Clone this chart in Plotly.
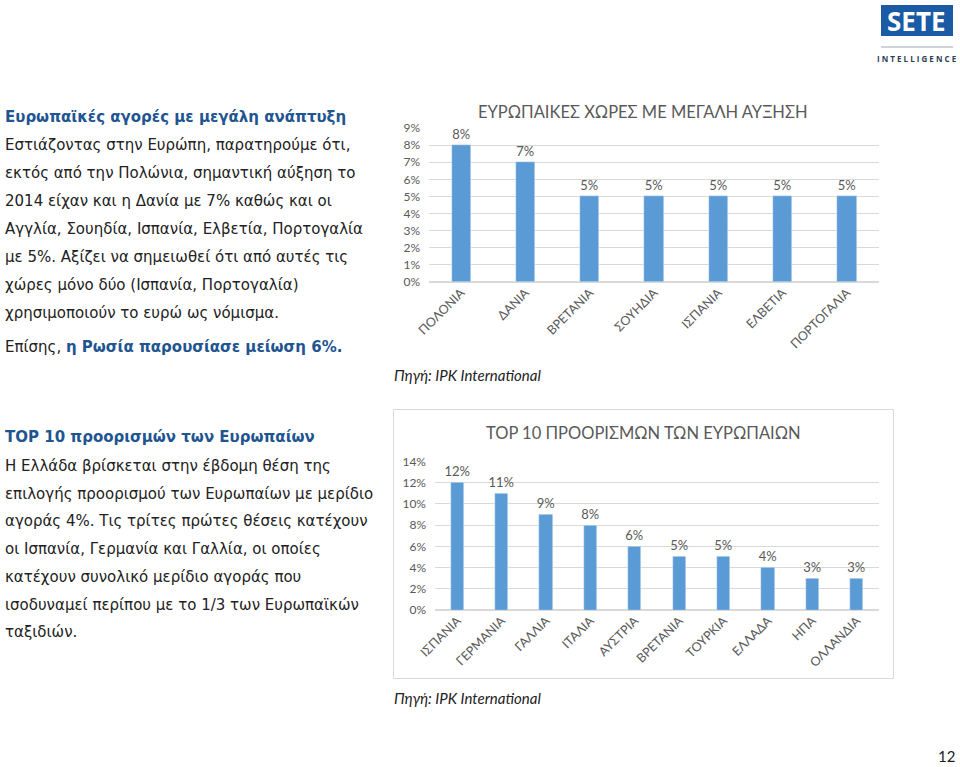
import plotly.graph_objects as go

W, H = 960, 767

# ---- data ----
growth_categories = ["ΠΟΛΟΝΙΑ", "ΔΑΝΙΑ", "ΒΡΕΤΑΝΙΑ", "ΣΟΥΗΔΙΑ", "ΙΣΠΑΝΙΑ", "ΕΛΒΕΤΙΑ", "ΠΟΡΤΟΓΑΛΙΑ"]
growth_values = [0.08, 0.07, 0.05, 0.05, 0.05, 0.05, 0.05]
growth_ticks = [0, 0.01, 0.02, 0.03, 0.04, 0.05, 0.06, 0.07, 0.08, 0.09]

top10_categories = ["ΙΣΠΑΝΙΑ", "ΓΕΡΜΑΝΙΑ", "ΓΑΛΛΙΑ", "ΙΤΑΛΙΑ", "ΑΥΣΤΡΙΑ", "ΒΡΕΤΑΝΙΑ",
                    "ΤΟΥΡΚΙΑ", "ΕΛΛΑΔΑ", "ΗΠΑ", "ΟΛΛΑΝΔΙΑ"]
top10_values = [0.12, 0.11, 0.09, 0.08, 0.06, 0.05, 0.05, 0.04, 0.03, 0.03]
top10_ticks = [0, 0.02, 0.04, 0.06, 0.08, 0.10, 0.12, 0.14]

growth_title = "ΕΥΡΩΠΑΙΚΕΣ ΧΩΡΕΣ ΜΕ ΜΕΓΑΛΗ ΑΥΞΗΣΗ"
top10_title = "TOP 10 ΠΡΟΟΡΙΣΜΩΝ ΤΩΝ ΕΥΡΩΠΑΙΩΝ"
source_text = "Πηγή: IPK International"

heading1 = "Ευρωπαϊκές αγορές με μεγάλη ανάπτυξη"
body1 = [
    "Εστιάζοντας στην Ευρώπη, παρατηρούμε ότι,",
    "εκτός από την Πολώνια, σημαντική αύξηση το",
    "2014 είχαν και η Δανία με 7% καθώς και οι",
    "Αγγλία, Σουηδία, Ισπανία, Ελβετία, Πορτογαλία",
    "με 5%. Αξίζει να σημειωθεί ότι από αυτές τις",
    "χώρες μόνο δύο (Ισπανία, Πορτογαλία)",
    "χρησιμοποιούν το ευρώ ως νόμισμα.",
]
russia_prefix = "Επίσης, "
russia_bold = "η Ρωσία παρουσίασε μείωση 6%."

heading2 = "TOP 10 προορισμών των Ευρωπαίων"
body2 = [
    "Η Ελλάδα βρίσκεται στην έβδομη θέση της",
    "επιλογής προορισμού των Ευρωπαίων με μερίδιο",
    "αγοράς 4%. Τις τρίτες πρώτες θέσεις κατέχουν",
    "οι Ισπανία, Γερμανία και Γαλλία, οι οποίες",
    "κατέχουν συνολικό μερίδιο αγοράς που",
    "ισοδυναμεί περίπου με το 1/3 των Ευρωπαϊκών",
    "ταξιδιών.",
]

# ---- styles ----
BAR = "#5B9BD5"
GRID = "#D9D9D9"
GREY = "#595959"
BLUE_HEAD = "#1F5591"
TEXT = "#222222"
CHART_FONT = "Lato"
BODY_FONT = "DejaVu Sans"


def px(x):
    return x / W


def py(y):
    return 1 - y / H


fig = go.Figure()

fig.add_trace(go.Bar(
    x=growth_categories, y=growth_values, marker_color=BAR, width=0.3,
    text=[f"{v:.0%}" for v in growth_values], textposition="outside", constraintext="none",
    textfont=dict(family=CHART_FONT, size=13, color=GREY), cliponaxis=False,
    xaxis="x", yaxis="y", showlegend=False,
))
fig.add_trace(go.Bar(
    x=top10_categories, y=top10_values, marker_color=BAR, width=0.3,
    text=[f"{v:.0%}" for v in top10_values], textposition="outside", constraintext="none",
    textfont=dict(family=CHART_FONT, size=13, color=GREY), cliponaxis=False,
    xaxis="x2", yaxis="y2", showlegend=False,
))

axis_font = dict(family=CHART_FONT, size=12, color=GREY)
xtick_font = dict(family=CHART_FONT, size=12.5, color=GREY)

fig.update_layout(
    width=W, height=H, margin=dict(l=0, r=0, t=0, b=0, autoexpand=False),
    paper_bgcolor="white", plot_bgcolor="white",
    bargap=0, showlegend=False,
    xaxis=dict(domain=[px(429), px(879)], anchor="y", range=[-0.5, 6.5],
               tickangle=-45, tickfont=xtick_font, automargin=False,
               showline=False, showgrid=False, ticks=""),
    yaxis=dict(domain=[py(282), py(128)], anchor="x", range=[0, 0.09],
               tickvals=growth_ticks, tickformat=".0%", tickfont=axis_font, automargin=False,
               gridcolor=GRID, zeroline=True, zerolinecolor=GRID, showline=False,
               ticklabelstandoff=8),
    xaxis2=dict(domain=[px(435), px(879)], anchor="y2", range=[-0.5, 9.5],
                tickangle=-45, tickfont=xtick_font, automargin=False,
                showline=False, showgrid=False, ticks=""),
    yaxis2=dict(domain=[py(610), py(461.5)], anchor="x2", range=[0, 0.14],
                tickvals=top10_ticks, tickformat=".0%", tickfont=axis_font, automargin=False,
                gridcolor=GRID, zeroline=True, zerolinecolor=GRID, showline=False,
                ticklabelstandoff=8),
)

ann = []
shapes = []

# chart titles
ann.append(dict(text=growth_title, x=px(643), y=py(112), xref="paper", yref="paper",
                showarrow=False, xanchor="center", yanchor="middle",
                font=dict(family=CHART_FONT, size=16.5, color=GREY)))
ann.append(dict(text=top10_title, x=px(643), y=py(433), xref="paper", yref="paper",
                showarrow=False, xanchor="center", yanchor="middle",
                font=dict(family=CHART_FONT, size=16.5, color=GREY)))

# sources
for sy in (375, 698):
    ann.append(dict(text=f"<i>{source_text}</i>", x=px(392), y=py(sy), xref="paper", yref="paper",
                    showarrow=False, xanchor="left", yanchor="middle",
                    font=dict(family=CHART_FONT, size=15, color=TEXT)))

# bottom chart border
shapes.append(dict(type="rect", xref="paper", yref="paper",
                   x0=px(393.5), x1=px(893.5), y0=py(678.5), y1=py(409.5),
                   line=dict(color="#D9D9D9", width=1), fillcolor="rgba(0,0,0,0)"))

# left text blocks
BODY_SIZE = 15
ann.append(dict(text=f"<b>{heading1}</b>", x=px(3), y=py(117), xref="paper", yref="paper",
                showarrow=False, xanchor="left", yanchor="middle",
                font=dict(family=BODY_FONT, size=BODY_SIZE, color=BLUE_HEAD)))
for i, line in enumerate(body1):
    ann.append(dict(text=line, x=px(3), y=py(145 + 28 * i), xref="paper", yref="paper",
                    showarrow=False, xanchor="left", yanchor="middle",
                    font=dict(family=BODY_FONT, size=BODY_SIZE, color=TEXT)))
ann.append(dict(text=f"{russia_prefix}<b><span style='color:{BLUE_HEAD}'>{russia_bold}</span></b>",
                x=px(3), y=py(347), xref="paper", yref="paper",
                showarrow=False, xanchor="left", yanchor="middle",
                font=dict(family=BODY_FONT, size=BODY_SIZE, color=TEXT)))

ann.append(dict(text=f"<b>{heading2}</b>", x=px(3), y=py(437), xref="paper", yref="paper",
                showarrow=False, xanchor="left", yanchor="middle",
                font=dict(family=BODY_FONT, size=BODY_SIZE, color=BLUE_HEAD)))
for i, line in enumerate(body2):
    ann.append(dict(text=line, x=px(3), y=py(466 + 27.7 * i), xref="paper", yref="paper",
                    showarrow=False, xanchor="left", yanchor="middle",
                    font=dict(family=BODY_FONT, size=BODY_SIZE, color=TEXT)))

# logo
shapes.append(dict(type="rect", xref="paper", yref="paper",
                   x0=px(881), x1=px(953), y0=py(36), y1=py(5),
                   line=dict(width=0), fillcolor="#1B5AA5"))
ann.append(dict(text="<b>SETE</b>", x=px(916), y=py(21), xref="paper", yref="paper",
                showarrow=False, xanchor="center", yanchor="middle",
                font=dict(family="Open Sans", size=26, color="white")))
shapes.append(dict(type="line", xref="paper", yref="paper",
                   x0=px(881), x1=px(953), y0=py(47), y1=py(47),
                   line=dict(color="#A0A8B4", width=1)))
ann.append(dict(text="<b>I N T E L L I G E N C E</b>", x=px(917), y=py(59), xref="paper", yref="paper",
                showarrow=False, xanchor="center", yanchor="middle",
                font=dict(family="Open Sans", size=8, color="#2E3F56")))

# page number
ann.append(dict(text="12", x=px(957), y=py(756), xref="paper", yref="paper",
                showarrow=False, xanchor="right", yanchor="middle",
                font=dict(family=CHART_FONT, size=15, color=TEXT)))

fig.update_layout(annotations=ann, shapes=shapes)

post = "document.body.style.margin='0';document.body.style.overflow='hidden';"
fig.write_html("out.html", config={"displayModeBar": False}, post_script=post)
